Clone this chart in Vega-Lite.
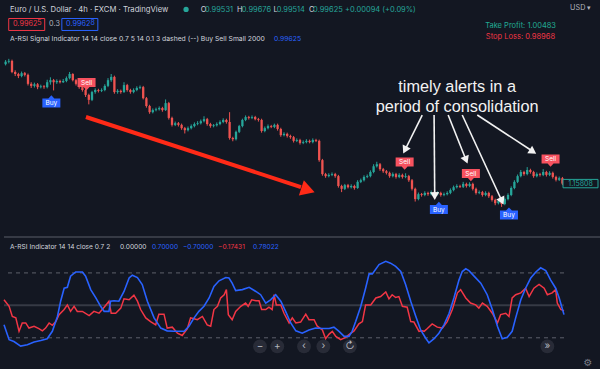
{
"$schema": "https://vega.github.io/schema/vega-lite/v6.json",
"background": "#131722",
"padding": 0,
"spacing": 0,
"config": {"view": {"stroke": null}, "font": "Inter", "text": {"font": "Inter"}, "axis": {"labelFont": "Inter", "grid": false}},
"datasets": {
"candles": [
{"i":0,"o":1.1872,"h":1.1882,"l":1.1869,"c":1.1878},
{"i":1,"o":1.1878,"h":1.1885,"l":1.1874,"c":1.188},
{"i":2,"o":1.188,"h":1.1883,"l":1.185,"c":1.1853},
{"i":3,"o":1.1853,"h":1.1857,"l":1.1843,"c":1.1848},
{"i":4,"o":1.1848,"h":1.1851,"l":1.1838,"c":1.1843},
{"i":5,"o":1.1843,"h":1.1854,"l":1.184,"c":1.185},
{"i":6,"o":1.185,"h":1.1853,"l":1.1842,"c":1.1846},
{"i":7,"o":1.1846,"h":1.1849,"l":1.182,"c":1.1824},
{"i":8,"o":1.1824,"h":1.1828,"l":1.1814,"c":1.1819},
{"i":9,"o":1.1819,"h":1.1827,"l":1.1815,"c":1.1823},
{"i":10,"o":1.1823,"h":1.1826,"l":1.1811,"c":1.1816},
{"i":11,"o":1.1816,"h":1.1822,"l":1.1813,"c":1.1818},
{"i":12,"o":1.1818,"h":1.1821,"l":1.1812,"c":1.1816},
{"i":13,"o":1.1816,"h":1.1834,"l":1.1813,"c":1.1828},
{"i":14,"o":1.1828,"h":1.184,"l":1.1822,"c":1.1833},
{"i":15,"o":1.1833,"h":1.1836,"l":1.1808,"c":1.1828},
{"i":16,"o":1.1828,"h":1.1835,"l":1.1824,"c":1.1831},
{"i":17,"o":1.1831,"h":1.1834,"l":1.1825,"c":1.1828},
{"i":18,"o":1.1828,"h":1.1836,"l":1.1826,"c":1.1831},
{"i":19,"o":1.1831,"h":1.1842,"l":1.1828,"c":1.1838},
{"i":20,"o":1.1838,"h":1.1853,"l":1.1835,"c":1.1848},
{"i":21,"o":1.1848,"h":1.185,"l":1.183,"c":1.1833},
{"i":22,"o":1.1833,"h":1.1836,"l":1.182,"c":1.1824},
{"i":23,"o":1.1824,"h":1.1827,"l":1.1812,"c":1.1816},
{"i":24,"o":1.1816,"h":1.1819,"l":1.1805,"c":1.1809},
{"i":25,"o":1.1809,"h":1.1812,"l":1.1792,"c":1.1797},
{"i":26,"o":1.1797,"h":1.18,"l":1.1774,"c":1.1785},
{"i":27,"o":1.1785,"h":1.1807,"l":1.1782,"c":1.1804},
{"i":28,"o":1.1804,"h":1.1813,"l":1.18,"c":1.1809},
{"i":29,"o":1.1809,"h":1.1812,"l":1.1803,"c":1.1807},
{"i":30,"o":1.1807,"h":1.1813,"l":1.1804,"c":1.1809},
{"i":31,"o":1.1809,"h":1.1823,"l":1.1806,"c":1.1819},
{"i":32,"o":1.1819,"h":1.1838,"l":1.1816,"c":1.1833},
{"i":33,"o":1.1833,"h":1.1848,"l":1.1829,"c":1.1841},
{"i":34,"o":1.1841,"h":1.1844,"l":1.18,"c":1.1804},
{"i":35,"o":1.1804,"h":1.1811,"l":1.18,"c":1.1807},
{"i":36,"o":1.1807,"h":1.181,"l":1.18,"c":1.1804},
{"i":37,"o":1.1804,"h":1.1828,"l":1.1802,"c":1.1821},
{"i":38,"o":1.1821,"h":1.1824,"l":1.1805,"c":1.1809},
{"i":39,"o":1.1809,"h":1.1812,"l":1.18,"c":1.1804},
{"i":40,"o":1.1804,"h":1.1813,"l":1.1801,"c":1.1809},
{"i":41,"o":1.1809,"h":1.1818,"l":1.1806,"c":1.1814},
{"i":42,"o":1.1814,"h":1.182,"l":1.1811,"c":1.1816},
{"i":43,"o":1.1816,"h":1.1819,"l":1.1786,"c":1.1789},
{"i":44,"o":1.1789,"h":1.1792,"l":1.1766,"c":1.177},
{"i":45,"o":1.177,"h":1.1773,"l":1.1751,"c":1.1755},
{"i":46,"o":1.1755,"h":1.1764,"l":1.1752,"c":1.176},
{"i":47,"o":1.176,"h":1.1766,"l":1.1757,"c":1.1762},
{"i":48,"o":1.1762,"h":1.1769,"l":1.1759,"c":1.1765},
{"i":49,"o":1.1765,"h":1.1768,"l":1.1756,"c":1.176},
{"i":50,"o":1.176,"h":1.1786,"l":1.1758,"c":1.1777},
{"i":51,"o":1.1777,"h":1.178,"l":1.1737,"c":1.1741},
{"i":52,"o":1.1741,"h":1.1744,"l":1.172,"c":1.1724},
{"i":53,"o":1.1724,"h":1.1732,"l":1.1721,"c":1.1728},
{"i":54,"o":1.1728,"h":1.1731,"l":1.172,"c":1.1724},
{"i":55,"o":1.1724,"h":1.1727,"l":1.1712,"c":1.1716},
{"i":56,"o":1.1716,"h":1.1719,"l":1.1703,"c":1.1711},
{"i":57,"o":1.1711,"h":1.172,"l":1.1708,"c":1.1716},
{"i":58,"o":1.1716,"h":1.1725,"l":1.1713,"c":1.1721},
{"i":59,"o":1.1721,"h":1.173,"l":1.1718,"c":1.1726},
{"i":60,"o":1.1726,"h":1.1733,"l":1.1723,"c":1.1728},
{"i":61,"o":1.1728,"h":1.1737,"l":1.1725,"c":1.1733},
{"i":62,"o":1.1733,"h":1.1745,"l":1.173,"c":1.1738},
{"i":63,"o":1.1738,"h":1.1741,"l":1.1722,"c":1.1726},
{"i":64,"o":1.1726,"h":1.1729,"l":1.1717,"c":1.1721},
{"i":65,"o":1.1721,"h":1.1726,"l":1.1718,"c":1.1723},
{"i":66,"o":1.1723,"h":1.173,"l":1.172,"c":1.1726},
{"i":67,"o":1.1726,"h":1.1735,"l":1.1723,"c":1.1731},
{"i":68,"o":1.1731,"h":1.174,"l":1.1728,"c":1.1736},
{"i":69,"o":1.1736,"h":1.1739,"l":1.1727,"c":1.1731},
{"i":70,"o":1.1731,"h":1.1755,"l":1.1688,"c":1.1692},
{"i":71,"o":1.1692,"h":1.1695,"l":1.1684,"c":1.1689},
{"i":72,"o":1.1689,"h":1.171,"l":1.1686,"c":1.1707},
{"i":73,"o":1.1707,"h":1.1724,"l":1.1704,"c":1.1721},
{"i":74,"o":1.1721,"h":1.1739,"l":1.1718,"c":1.1736},
{"i":75,"o":1.1736,"h":1.1747,"l":1.1733,"c":1.1743},
{"i":76,"o":1.1743,"h":1.1746,"l":1.1737,"c":1.1741},
{"i":77,"o":1.1741,"h":1.1747,"l":1.1738,"c":1.1743},
{"i":78,"o":1.1743,"h":1.1746,"l":1.1735,"c":1.1738},
{"i":79,"o":1.1738,"h":1.1741,"l":1.1732,"c":1.1736},
{"i":80,"o":1.1736,"h":1.1739,"l":1.1705,"c":1.1709},
{"i":81,"o":1.1709,"h":1.172,"l":1.1706,"c":1.1716},
{"i":82,"o":1.1716,"h":1.1725,"l":1.1713,"c":1.1721},
{"i":83,"o":1.1721,"h":1.1724,"l":1.1716,"c":1.1719},
{"i":84,"o":1.1719,"h":1.1727,"l":1.1716,"c":1.1724},
{"i":85,"o":1.1724,"h":1.1727,"l":1.171,"c":1.1714},
{"i":86,"o":1.1714,"h":1.1717,"l":1.1695,"c":1.1699},
{"i":87,"o":1.1699,"h":1.1706,"l":1.1696,"c":1.1702},
{"i":88,"o":1.1702,"h":1.1705,"l":1.1693,"c":1.1697},
{"i":89,"o":1.1697,"h":1.17,"l":1.169,"c":1.1694},
{"i":90,"o":1.1694,"h":1.1697,"l":1.1681,"c":1.1685},
{"i":91,"o":1.1685,"h":1.1691,"l":1.1682,"c":1.1687},
{"i":92,"o":1.1687,"h":1.169,"l":1.1676,"c":1.168},
{"i":93,"o":1.168,"h":1.1686,"l":1.1677,"c":1.1682},
{"i":94,"o":1.1682,"h":1.1689,"l":1.1679,"c":1.1685},
{"i":95,"o":1.1685,"h":1.1688,"l":1.1679,"c":1.1682},
{"i":96,"o":1.1682,"h":1.1691,"l":1.1679,"c":1.1687},
{"i":97,"o":1.1687,"h":1.169,"l":1.1682,"c":1.1685},
{"i":98,"o":1.1685,"h":1.1688,"l":1.1634,"c":1.1638},
{"i":99,"o":1.1638,"h":1.1641,"l":1.16,"c":1.1604},
{"i":100,"o":1.1604,"h":1.1607,"l":1.1595,"c":1.1599},
{"i":101,"o":1.1599,"h":1.1606,"l":1.1596,"c":1.1602},
{"i":102,"o":1.1602,"h":1.1608,"l":1.1599,"c":1.1604},
{"i":103,"o":1.1604,"h":1.1607,"l":1.1595,"c":1.1599},
{"i":104,"o":1.1599,"h":1.1602,"l":1.1571,"c":1.1575},
{"i":105,"o":1.1575,"h":1.1578,"l":1.156,"c":1.1568},
{"i":106,"o":1.1568,"h":1.158,"l":1.1565,"c":1.1577},
{"i":107,"o":1.1577,"h":1.158,"l":1.1569,"c":1.1572},
{"i":108,"o":1.1572,"h":1.1579,"l":1.1569,"c":1.1575},
{"i":109,"o":1.1575,"h":1.1578,"l":1.1566,"c":1.157},
{"i":110,"o":1.157,"h":1.1589,"l":1.1568,"c":1.1585},
{"i":111,"o":1.1585,"h":1.1593,"l":1.1582,"c":1.1589},
{"i":112,"o":1.1589,"h":1.1601,"l":1.1586,"c":1.1597},
{"i":113,"o":1.1597,"h":1.1603,"l":1.1594,"c":1.1599},
{"i":114,"o":1.1599,"h":1.1613,"l":1.1596,"c":1.1609},
{"i":115,"o":1.1609,"h":1.1628,"l":1.1606,"c":1.1623},
{"i":116,"o":1.1623,"h":1.1634,"l":1.162,"c":1.1628},
{"i":117,"o":1.1628,"h":1.1631,"l":1.1612,"c":1.1616},
{"i":118,"o":1.1616,"h":1.1619,"l":1.1607,"c":1.1611},
{"i":119,"o":1.1611,"h":1.1614,"l":1.1603,"c":1.1607},
{"i":120,"o":1.1607,"h":1.161,"l":1.1595,"c":1.1599},
{"i":121,"o":1.1599,"h":1.1608,"l":1.1596,"c":1.1604},
{"i":122,"o":1.1604,"h":1.1607,"l":1.1593,"c":1.1597},
{"i":123,"o":1.1597,"h":1.1606,"l":1.1594,"c":1.1602},
{"i":124,"o":1.1602,"h":1.1605,"l":1.1593,"c":1.1597},
{"i":125,"o":1.1597,"h":1.1606,"l":1.1594,"c":1.1599},
{"i":126,"o":1.1599,"h":1.1602,"l":1.1585,"c":1.1589},
{"i":127,"o":1.1589,"h":1.1592,"l":1.1564,"c":1.1568},
{"i":128,"o":1.1568,"h":1.1571,"l":1.1537,"c":1.1543},
{"i":129,"o":1.1543,"h":1.1559,"l":1.154,"c":1.1555},
{"i":130,"o":1.1555,"h":1.1558,"l":1.1549,"c":1.1553},
{"i":131,"o":1.1553,"h":1.1562,"l":1.155,"c":1.1558},
{"i":132,"o":1.1558,"h":1.1561,"l":1.1551,"c":1.1555},
{"i":133,"o":1.1555,"h":1.1564,"l":1.1552,"c":1.156},
{"i":134,"o":1.156,"h":1.1563,"l":1.1551,"c":1.1555},
{"i":135,"o":1.1555,"h":1.1562,"l":1.1552,"c":1.1558},
{"i":136,"o":1.1558,"h":1.1561,"l":1.1549,"c":1.1553},
{"i":137,"o":1.1553,"h":1.1559,"l":1.155,"c":1.1555},
{"i":138,"o":1.1555,"h":1.1562,"l":1.1552,"c":1.1558},
{"i":139,"o":1.1558,"h":1.1569,"l":1.1555,"c":1.1565},
{"i":140,"o":1.1565,"h":1.1576,"l":1.1562,"c":1.1572},
{"i":141,"o":1.1572,"h":1.1579,"l":1.1569,"c":1.1575},
{"i":142,"o":1.1575,"h":1.1578,"l":1.157,"c":1.1573},
{"i":143,"o":1.1573,"h":1.1585,"l":1.157,"c":1.158},
{"i":144,"o":1.158,"h":1.1583,"l":1.1571,"c":1.1575},
{"i":145,"o":1.1575,"h":1.1584,"l":1.1572,"c":1.158},
{"i":146,"o":1.158,"h":1.1583,"l":1.1564,"c":1.1568},
{"i":147,"o":1.1568,"h":1.1571,"l":1.1554,"c":1.1558},
{"i":148,"o":1.1558,"h":1.1564,"l":1.1555,"c":1.156},
{"i":149,"o":1.156,"h":1.1563,"l":1.1549,"c":1.1553},
{"i":150,"o":1.1553,"h":1.1562,"l":1.155,"c":1.1558},
{"i":151,"o":1.1558,"h":1.1561,"l":1.1546,"c":1.155},
{"i":152,"o":1.155,"h":1.1553,"l":1.1537,"c":1.1541},
{"i":153,"o":1.1541,"h":1.1544,"l":1.1528,"c":1.1533},
{"i":154,"o":1.1533,"h":1.1542,"l":1.153,"c":1.1538},
{"i":155,"o":1.1538,"h":1.1541,"l":1.1524,"c":1.1531},
{"i":156,"o":1.1531,"h":1.1547,"l":1.1528,"c":1.1543},
{"i":157,"o":1.1543,"h":1.1557,"l":1.154,"c":1.1553},
{"i":158,"o":1.1553,"h":1.1574,"l":1.155,"c":1.157},
{"i":159,"o":1.157,"h":1.1589,"l":1.1567,"c":1.1585},
{"i":160,"o":1.1585,"h":1.1603,"l":1.1582,"c":1.1599},
{"i":161,"o":1.1599,"h":1.1614,"l":1.1596,"c":1.1609},
{"i":162,"o":1.1609,"h":1.1612,"l":1.16,"c":1.1604},
{"i":163,"o":1.1604,"h":1.1621,"l":1.1601,"c":1.1614},
{"i":164,"o":1.1614,"h":1.1617,"l":1.1605,"c":1.1609},
{"i":165,"o":1.1609,"h":1.1612,"l":1.1595,"c":1.1599},
{"i":166,"o":1.1599,"h":1.1608,"l":1.1596,"c":1.1604},
{"i":167,"o":1.1604,"h":1.1607,"l":1.1598,"c":1.1602},
{"i":168,"o":1.1602,"h":1.1616,"l":1.1599,"c":1.1609},
{"i":169,"o":1.1609,"h":1.1612,"l":1.1598,"c":1.1602},
{"i":170,"o":1.1602,"h":1.1611,"l":1.1599,"c":1.1607},
{"i":171,"o":1.1607,"h":1.161,"l":1.1593,"c":1.1597},
{"i":172,"o":1.1597,"h":1.16,"l":1.1586,"c":1.159},
{"i":173,"o":1.159,"h":1.1598,"l":1.1587,"c":1.1594},
{"i":174,"o":1.1594,"h":1.1597,"l":1.1577,"c":1.15808}
],
"rsi": [
{"i":-0.5,"v":0.12,"s":"r"},{"i":1.1,"v":-0.02,"s":"r"},{"i":2.1,"v":-0.24,"s":"r"},{"i":3.2,"v":-0.27,"s":"r"},{"i":4.2,"v":-0.56,"s":"r"},{"i":5.2,"v":-0.38,"s":"r"},{"i":6.3,"v":-0.38,"s":"r"},{"i":7.3,"v":-0.49,"s":"r"},{"i":8.9,"v":-0.45,"s":"r"},{"i":10.4,"v":-0.5,"s":"r"},{"i":11.5,"v":-0.55,"s":"r"},{"i":12.5,"v":-0.49,"s":"r"},{"i":13.6,"v":-0.38,"s":"r"},{"i":14.6,"v":-0.43,"s":"r"},{"i":15.7,"v":-0.35,"s":"r"},{"i":16.7,"v":-0.2,"s":"r"},{"i":18.3,"v":-0.09,"s":"r"},{"i":19.3,"v":0.01,"s":"r"},{"i":20.3,"v":-0.13,"s":"r"},{"i":21.4,"v":-0.02,"s":"r"},{"i":22.4,"v":-0.13,"s":"r"},{"i":24,"v":-0.13,"s":"r"},{"i":26.1,"v":-0.22,"s":"r"},{"i":27.6,"v":-0.13,"s":"r"},{"i":29.2,"v":-0.17,"s":"r"},{"i":30.8,"v":-0.04,"s":"r"},{"i":32.3,"v":0.09,"s":"r"},{"i":33,"v":-0.17,"s":"r"},{"i":34.4,"v":-0.17,"s":"r"},{"i":36,"v":-0.06,"s":"r"},{"i":37,"v":0.14,"s":"r"},{"i":38.6,"v":0.12,"s":"r"},{"i":40.1,"v":0.22,"s":"r"},{"i":41.2,"v":0.09,"s":"r"},{"i":42.2,"v":-0.09,"s":"r"},{"i":43.8,"v":-0.27,"s":"r"},{"i":45.3,"v":-0.35,"s":"r"},{"i":46.9,"v":-0.42,"s":"r"},{"i":47.9,"v":-0.19,"s":"r"},{"i":49.5,"v":-0.19,"s":"r"},{"i":50.5,"v":-0.49,"s":"r"},{"i":52.1,"v":-0.47,"s":"r"},{"i":53.7,"v":-0.6,"s":"r"},{"i":55.2,"v":-0.65,"s":"r"},{"i":56.8,"v":-0.5,"s":"r"},{"i":57.8,"v":-0.27,"s":"r"},{"i":58.9,"v":-0.29,"s":"r"},{"i":59.9,"v":-0.31,"s":"r"},{"i":61.5,"v":-0.24,"s":"r"},{"i":63,"v":-0.42,"s":"r"},{"i":64.1,"v":-0.45,"s":"r"},{"i":65.1,"v":-0.09,"s":"r"},{"i":66.2,"v":-0.02,"s":"r"},{"i":67.2,"v":0.16,"s":"r"},{"i":68.3,"v":0.23,"s":"r"},{"i":69,"v":0.34,"s":"r"},{"i":69.6,"v":-0.2,"s":"r"},{"i":70.8,"v":-0.31,"s":"r"},{"i":71.9,"v":-0.13,"s":"r"},{"i":73.5,"v":-0.02,"s":"r"},{"i":75,"v":0.05,"s":"r"},{"i":75.8,"v":-0.02,"s":"r"},{"i":76.9,"v":0.12,"s":"r"},{"i":78.2,"v":0.1,"s":"r"},{"i":79.2,"v":0.1,"s":"r"},{"i":80,"v":-0.09,"s":"r"},{"i":81.3,"v":-0.09,"s":"r"},{"i":82.3,"v":-0.04,"s":"r"},{"i":83.3,"v":-0.09,"s":"r"},{"i":83.9,"v":0.23,"s":"r"},{"i":84.6,"v":0.01,"s":"r"},{"i":86,"v":0.01,"s":"r"},{"i":87,"v":-0.17,"s":"r"},{"i":88.6,"v":-0.38,"s":"r"},{"i":89.6,"v":-0.27,"s":"r"},{"i":90.7,"v":-0.38,"s":"r"},{"i":92.2,"v":-0.36,"s":"r"},{"i":93.8,"v":-0.19,"s":"r"},{"i":94.8,"v":-0.31,"s":"r"},{"i":96.4,"v":-0.31,"s":"r"},{"i":97.4,"v":-0.45,"s":"r"},{"i":99,"v":-0.53,"s":"r"},{"i":100,"v":-0.72,"s":"r"},{"i":101.1,"v":-0.62,"s":"r"},{"i":102.1,"v":-0.56,"s":"r"},{"i":103.2,"v":-0.67,"s":"r"},{"i":104.7,"v":-0.74,"s":"r"},{"i":106.3,"v":-0.69,"s":"r"},{"i":107.3,"v":-0.63,"s":"r"},{"i":108.9,"v":-0.55,"s":"r"},{"i":110.4,"v":-0.4,"s":"r"},{"i":111.5,"v":-0.35,"s":"r"},{"i":112.5,"v":0.01,"s":"r"},{"i":114.1,"v":0.01,"s":"r"},{"i":115.7,"v":0.16,"s":"r"},{"i":117.2,"v":0.19,"s":"r"},{"i":118.8,"v":0.29,"s":"r"},{"i":119.8,"v":0.14,"s":"r"},{"i":120.8,"v":0.23,"s":"r"},{"i":121.9,"v":0.17,"s":"r"},{"i":122.9,"v":0.19,"s":"r"},{"i":124,"v":-0.02,"s":"r"},{"i":125.5,"v":-0.04,"s":"r"},{"i":126.6,"v":-0.35,"s":"r"},{"i":127.6,"v":-0.36,"s":"r"},{"i":129.2,"v":-0.56,"s":"r"},{"i":130.2,"v":-0.55,"s":"r"},{"i":130.8,"v":-0.56,"s":"r"},{"i":131.8,"v":-0.5,"s":"r"},{"i":133.3,"v":-0.4,"s":"r"},{"i":134.9,"v":-0.47,"s":"r"},{"i":136.5,"v":-0.49,"s":"r"},{"i":138,"v":-0.35,"s":"r"},{"i":139.6,"v":-0.09,"s":"r"},{"i":141.2,"v":0.27,"s":"r"},{"i":142.2,"v":0.34,"s":"r"},{"i":143.8,"v":0.16,"s":"r"},{"i":145.3,"v":0.05,"s":"r"},{"i":146.9,"v":0.01,"s":"r"},{"i":147.9,"v":-0.06,"s":"r"},{"i":149,"v":0.05,"s":"r"},{"i":150.5,"v":-0.02,"s":"r"},{"i":152.1,"v":-0.17,"s":"r"},{"i":153.7,"v":-0.38,"s":"r"},{"i":154.7,"v":-0.2,"s":"r"},{"i":156.3,"v":-0.17,"s":"r"},{"i":157.3,"v":-0.24,"s":"r"},{"i":158.3,"v":0.16,"s":"r"},{"i":159.4,"v":0.23,"s":"r"},{"i":161,"v":0.27,"s":"r"},{"i":162.5,"v":0.37,"s":"r"},{"i":163.6,"v":0.19,"s":"r"},{"i":165.1,"v":0.37,"s":"r"},{"i":166.7,"v":0.45,"s":"r"},{"i":168.3,"v":0.37,"s":"r"},{"i":169.3,"v":0.23,"s":"r"},{"i":170.8,"v":0.27,"s":"r"},{"i":171.9,"v":0.34,"s":"r"},{"i":172.4,"v":0.05,"s":"r"},{"i":173.5,"v":-0.09,"s":"r"},{"i":174.5,"v":-0.12,"s":"r"},
{"i":-0.5,"v":-0.42,"s":"b"},{"i":1.1,"v":-0.74,"s":"b"},{"i":2.6,"v":-0.78,"s":"b"},{"i":4.7,"v":-0.88,"s":"b"},{"i":6.8,"v":-0.85,"s":"b"},{"i":8.9,"v":-0.79,"s":"b"},{"i":11,"v":-0.76,"s":"b"},{"i":13,"v":-0.72,"s":"b"},{"i":14.6,"v":-0.56,"s":"b"},{"i":16.2,"v":-0.24,"s":"b"},{"i":17.2,"v":0.09,"s":"b"},{"i":18.3,"v":0.37,"s":"b"},{"i":19.3,"v":0.39,"s":"b"},{"i":20.3,"v":0.63,"s":"b"},{"i":21.9,"v":0.72,"s":"b"},{"i":24,"v":0.72,"s":"b"},{"i":25,"v":0.63,"s":"b"},{"i":26.6,"v":0.34,"s":"b"},{"i":28.2,"v":0.16,"s":"b"},{"i":29.7,"v":-0.02,"s":"b"},{"i":30.8,"v":-0.13,"s":"b"},{"i":32.3,"v":-0.13,"s":"b"},{"i":32.8,"v":0.09,"s":"b"},{"i":33.9,"v":0.1,"s":"b"},{"i":35.4,"v":0.09,"s":"b"},{"i":37,"v":0.3,"s":"b"},{"i":38.6,"v":0.59,"s":"b"},{"i":39.6,"v":0.65,"s":"b"},{"i":41.2,"v":0.6,"s":"b"},{"i":42.7,"v":0.45,"s":"b"},{"i":44.3,"v":0.09,"s":"b"},{"i":46.4,"v":-0.27,"s":"b"},{"i":48.5,"v":-0.49,"s":"b"},{"i":50.5,"v":-0.55,"s":"b"},{"i":52.6,"v":-0.56,"s":"b"},{"i":55.8,"v":-0.56,"s":"b"},{"i":57.3,"v":-0.45,"s":"b"},{"i":58.9,"v":-0.27,"s":"b"},{"i":60.4,"v":-0.13,"s":"b"},{"i":62,"v":-0.02,"s":"b"},{"i":63.6,"v":0.16,"s":"b"},{"i":65.1,"v":0.41,"s":"b"},{"i":66.7,"v":0.53,"s":"b"},{"i":68.8,"v":0.6,"s":"b"},{"i":69.8,"v":0.59,"s":"b"},{"i":70.8,"v":0.48,"s":"b"},{"i":71.9,"v":0.32,"s":"b"},{"i":74,"v":0.34,"s":"b"},{"i":76.1,"v":0.39,"s":"b"},{"i":78.2,"v":0.3,"s":"b"},{"i":79.7,"v":0.23,"s":"b"},{"i":81.3,"v":0.05,"s":"b"},{"i":82.8,"v":0.12,"s":"b"},{"i":84.4,"v":0.23,"s":"b"},{"i":86,"v":0.09,"s":"b"},{"i":87.5,"v":-0.13,"s":"b"},{"i":89.1,"v":-0.38,"s":"b"},{"i":90.7,"v":-0.55,"s":"b"},{"i":92.7,"v":-0.6,"s":"b"},{"i":94.8,"v":-0.53,"s":"b"},{"i":96.9,"v":-0.49,"s":"b"},{"i":99,"v":-0.5,"s":"b"},{"i":101.1,"v":-0.5,"s":"b"},{"i":102.6,"v":-0.47,"s":"b"},{"i":104.2,"v":-0.56,"s":"b"},{"i":105.8,"v":-0.67,"s":"b"},{"i":107.3,"v":-0.67,"s":"b"},{"i":108.3,"v":-0.56,"s":"b"},{"i":109.4,"v":-0.35,"s":"b"},{"i":111,"v":-0.02,"s":"b"},{"i":112.5,"v":0.37,"s":"b"},{"i":113.6,"v":0.68,"s":"b"},{"i":114.6,"v":0.68,"s":"b"},{"i":116.7,"v":0.88,"s":"b"},{"i":118.8,"v":0.95,"s":"b"},{"i":120.3,"v":0.91,"s":"b"},{"i":121.9,"v":0.84,"s":"b"},{"i":123.5,"v":0.73,"s":"b"},{"i":125,"v":0.45,"s":"b"},{"i":126.6,"v":0.09,"s":"b"},{"i":128.2,"v":-0.24,"s":"b"},{"i":129.7,"v":-0.53,"s":"b"},{"i":131.3,"v":-0.71,"s":"b"},{"i":132.3,"v":-0.81,"s":"b"},{"i":133.9,"v":-0.72,"s":"b"},{"i":135.4,"v":-0.6,"s":"b"},{"i":137,"v":-0.42,"s":"b"},{"i":138.6,"v":-0.17,"s":"b"},{"i":140.1,"v":0.16,"s":"b"},{"i":141.7,"v":0.55,"s":"b"},{"i":142.7,"v":0.73,"s":"b"},{"i":143.8,"v":0.79,"s":"b"},{"i":144.8,"v":0.75,"s":"b"},{"i":146.4,"v":0.63,"s":"b"},{"i":148.5,"v":0.48,"s":"b"},{"i":150.5,"v":0.23,"s":"b"},{"i":152.1,"v":-0.09,"s":"b"},{"i":153.7,"v":-0.45,"s":"b"},{"i":155.2,"v":-0.72,"s":"b"},{"i":156.8,"v":-0.69,"s":"b"},{"i":158.3,"v":-0.56,"s":"b"},{"i":159.4,"v":-0.27,"s":"b"},{"i":161,"v":0.12,"s":"b"},{"i":162.5,"v":0.37,"s":"b"},{"i":164.1,"v":0.59,"s":"b"},{"i":165.7,"v":0.72,"s":"b"},{"i":167.2,"v":0.81,"s":"b"},{"i":168.8,"v":0.75,"s":"b"},{"i":170.3,"v":0.55,"s":"b"},{"i":171.9,"v":0.37,"s":"b"},{"i":173,"v":0.16,"s":"b"},{"i":174.5,"v":-0.2,"s":"b"}
]
},
"vconcat": [
{
"width": 560, "height": 236,
"layer": [
{"data": {"name": "candles"}, "mark": {"type": "rule", "strokeWidth": 1},
 "encoding": {
  "x": {"field": "i", "type": "quantitative", "scale": {"domain": [-0.5, 174.5], "nice": false, "zero": false}, "axis": null},
  "y": {"field": "l", "type": "quantitative", "scale": {"domain": [1.1453, 1.20285], "nice": false, "zero": false},
        "axis": {"orient": "right", "values": [1.15, 1.155, 1.16, 1.165, 1.17, 1.175, 1.18, 1.185, 1.19, 1.195], "format": ".5f", "title": null, "ticks": false, "labelPadding": 6, "domain": true, "domainColor": "#2a2e39", "domainWidth": 1, "labelColor": "#b2b5be", "labelFontSize": 7, "minExtent": 40, "maxExtent": 40, "grid": false}},
  "y2": {"field": "h"},
  "color": {"condition": {"test": "datum.c >= datum.o", "value": "#26a69a"}, "value": "#ef5350"}}},
{"data": {"name": "candles"}, "mark": {"type": "rule", "strokeWidth": 2.3},
 "encoding": {
  "x": {"field": "i", "type": "quantitative", "scale": {"domain": [-0.5, 174.5], "nice": false, "zero": false}, "axis": null},
  "y": {"field": "o", "type": "quantitative", "scale": {"domain": [1.1453, 1.20285], "nice": false, "zero": false}, "axis": null},
  "y2": {"field": "c"},
  "color": {"condition": {"test": "datum.c >= datum.o", "value": "#26a69a"}, "value": "#ef5350"}}},
{"data": {"values": [{"i": 25.1, "p": 1.17432, "i2": 92.3, "p2": 1.15724}]}, "mark": {"type": "rule", "color": "#ff2a17", "strokeWidth": 4},
 "encoding": {
  "x": {"field": "i", "type": "quantitative", "scale": {"domain": [-0.5, 174.5], "nice": false, "zero": false}, "axis": null},
  "y": {"field": "p", "type": "quantitative", "scale": {"domain": [1.1453, 1.20285], "nice": false, "zero": false}, "axis": null},
  "x2": {"field": "i2"}, "y2": {"field": "p2"}}},
{"data": {"values": [{"i": 94.5, "p": 1.15651, "a": 108}]}, "mark": {"type": "point", "shape": "triangle-up", "filled": true, "color": "#ff2a17", "size": 260, "opacity": 1},
 "encoding": {
  "x": {"field": "i", "type": "quantitative", "scale": {"domain": [-0.5, 174.5], "nice": false, "zero": false}, "axis": null},
  "y": {"field": "p", "type": "quantitative", "scale": {"domain": [1.1453, 1.20285], "nice": false, "zero": false}, "axis": null},
  "angle": {"field": "a", "type": "quantitative", "scale": null}}},
{"data": {"values": [{"i": 130.2, "p": 1.1748, "i2": 124.8, "p2": 1.16627}, {"i": 133.9, "p": 1.1748, "i2": 134.1, "p2": 1.15505}, {"i": 138.3, "p": 1.1748, "i2": 143.9, "p2": 1.16383}, {"i": 142.7, "p": 1.1748, "i2": 155.1, "p2": 1.15383}, {"i": 147.4, "p": 1.1748, "i2": 164.8, "p2": 1.1659}]},
 "mark": {"type": "rule", "color": "#f2f2f2", "strokeWidth": 1.6},
 "encoding": {
  "x": {"field": "i", "type": "quantitative", "scale": {"domain": [-0.5, 174.5], "nice": false, "zero": false}, "axis": null},
  "y": {"field": "p", "type": "quantitative", "scale": {"domain": [1.1453, 1.20285], "nice": false, "zero": false}, "axis": null},
  "x2": {"field": "i2"}, "y2": {"field": "p2"}}},
{"data": {"values": [{"i": 124.8, "p": 1.16627, "a": 206.5}, {"i": 134.1, "p": 1.15505, "a": 179.5}, {"i": 143.9, "p": 1.16383, "a": 158}, {"i": 155.1, "p": 1.15383, "a": 155}, {"i": 164.8, "p": 1.1659, "a": 123}]},
 "mark": {"type": "point", "shape": "triangle-up", "filled": true, "color": "#f2f2f2", "size": 80, "opacity": 1},
 "encoding": {
  "x": {"field": "i", "type": "quantitative", "scale": {"domain": [-0.5, 174.5], "nice": false, "zero": false}, "axis": null},
  "y": {"field": "p", "type": "quantitative", "scale": {"domain": [1.1453, 1.20285], "nice": false, "zero": false}, "axis": null},
  "angle": {"field": "a", "type": "quantitative", "scale": null}}},
{"data": {"values": [{"i": 14.3, "p": 1.17773, "s": "Buy"}, {"i": 25.3, "p": 1.18273, "s": "Sell"}, {"i": 124.7, "p": 1.16334, "s": "Sell"}, {"i": 135.4, "p": 1.15176, "s": "Buy"}, {"i": 145.4, "p": 1.16054, "s": "Sell"}, {"i": 157.3, "p": 1.15041, "s": "Buy"}, {"i": 170.3, "p": 1.16407, "s": "Sell"}]},
 "layer": [
  {"mark": {"type": "point", "filled": true, "opacity": 1, "size": 324},
   "encoding": {
    "x": {"field": "i", "type": "quantitative", "scale": {"domain": [-0.5, 174.5], "nice": false, "zero": false}, "axis": null},
    "y": {"field": "p", "type": "quantitative", "scale": {"domain": [1.1453, 1.20285], "nice": false, "zero": false}, "axis": null},
    "shape": {"field": "s", "type": "nominal", "scale": {"domain": ["Buy", "Sell"], "range": ["M-1,-0.5L-0.33,-0.5L0,-0.85L0.33,-0.5L1,-0.5L1,0.5L-1,0.5Z", "M-1,-0.5L1,-0.5L1,0.5L0.33,0.5L0,0.85L-0.33,0.5L-1,0.5Z"]}, "legend": null},
    "color": {"field": "s", "type": "nominal", "scale": {"domain": ["light", "gray", "teal", "red", "blue", "green", "Buy", "Sell"], "range": ["#d1d4dc", "#b2b5be", "#26a69a", "#f23645", "#2962ff", "#22ab94", "#2962ff", "#f7525f"]}, "legend": null}}},
  {"mark": {"type": "text", "fontSize": 6.5, "color": "#ffffff", "align": "center", "baseline": "middle"},
   "encoding": {
    "x": {"field": "i", "type": "quantitative", "scale": {"domain": [-0.5, 174.5], "nice": false, "zero": false}, "axis": null},
    "y": {"field": "p", "type": "quantitative", "scale": {"domain": [1.1453, 1.20285], "nice": false, "zero": false}, "axis": null},
    "text": {"field": "s"}}}
 ]},
{"data": {"values": [{"i": 141.1, "p": 1.18163, "t": "timely alerts in a"}, {"i": 141.1, "p": 1.17676, "t": "period of consolidation"}]},
 "mark": {"type": "text", "font": "Liberation Sans", "fontSize": 16.3, "color": "#f2f2f2", "align": "center", "baseline": "middle"},
 "encoding": {
  "x": {"field": "i", "type": "quantitative", "scale": {"domain": [-0.5, 174.5], "nice": false, "zero": false}, "axis": null},
  "y": {"field": "p", "type": "quantitative", "scale": {"domain": [1.1453, 1.20285], "nice": false, "zero": false}, "axis": null},
  "text": {"field": "t"}}},
{"data": {"values": [{"i": 6.6, "p": 1.19688, "k": "red"}, {"i": 23.2, "p": 1.19688, "k": "blue"}]},
 "mark": {"type": "point", "filled": false, "opacity": 1, "strokeWidth": 1, "size": 1296, "shape": "M-1,-0.333L1,-0.333L1,0.333L-1,0.333Z"},
 "encoding": {
  "x": {"field": "i", "type": "quantitative", "scale": {"domain": [-0.5, 174.5], "nice": false, "zero": false}, "axis": null},
  "y": {"field": "p", "type": "quantitative", "scale": {"domain": [1.1453, 1.20285], "nice": false, "zero": false}, "axis": null},
  "color": {"field": "k", "type": "nominal", "scale": {"domain": ["light", "gray", "teal", "red", "blue", "green", "Buy", "Sell"], "range": ["#d1d4dc", "#b2b5be", "#26a69a", "#f23645", "#2962ff", "#22ab94", "#2962ff", "#f7525f"]}, "legend": null}}},
{"data": {"values": [{"i": 179.66, "p": 1.15808}]},
 "mark": {"type": "point", "filled": true, "fill": "#131722", "stroke": "#26a69a", "strokeWidth": 1, "opacity": 1, "size": 1225, "shape": "M-1,-0.24L1,-0.24L1,0.24L-1,0.24Z"},
 "encoding": {
  "x": {"field": "i", "type": "quantitative", "scale": {"domain": [-0.5, 174.5], "nice": false, "zero": false}, "axis": null},
  "y": {"field": "p", "type": "quantitative", "scale": {"domain": [1.1453, 1.20285], "nice": false, "zero": false}, "axis": null}}},
{"data": {"values": [{"i": 56.4, "p": 1.20054}]},
 "mark": {"type": "point", "shape": "circle", "filled": true, "color": "#26a69a", "size": 28, "opacity": 1},
 "encoding": {
  "x": {"field": "i", "type": "quantitative", "scale": {"domain": [-0.5, 174.5], "nice": false, "zero": false}, "axis": null},
  "y": {"field": "p", "type": "quantitative", "scale": {"domain": [1.1453, 1.20285], "nice": false, "zero": false}, "axis": null}}},
{"data": {"values": [
  {"i": 1.375, "p": 1.20041, "t": "Euro / U.S. Dollar · 4h · FXCM · TradingView", "k": "light", "g": "a"},
  {"i": 61.0, "p": 1.20041, "t": "O", "k": "light", "g": "b"},
  {"i": 62.3, "p": 1.20041, "t": "0.99531", "k": "teal", "g": "b"},
  {"i": 72.3, "p": 1.20041, "t": "H", "k": "light", "g": "b"},
  {"i": 73.8, "p": 1.20041, "t": "0.99676", "k": "teal", "g": "b"},
  {"i": 83.7, "p": 1.20041, "t": "L", "k": "light", "g": "b"},
  {"i": 84.7, "p": 1.20041, "t": "0.99514", "k": "teal", "g": "b"},
  {"i": 94.8, "p": 1.20041, "t": "C", "k": "light", "g": "b"},
  {"i": 96.1, "p": 1.20041, "t": "0.99625", "k": "teal", "g": "b"},
  {"i": 106.1, "p": 1.20041, "t": "+0.00094 (+0.09%)", "k": "teal", "g": "b"},
  {"i": 2.3, "p": 1.19688, "t": "0.9962", "k": "red", "g": "c"},
  {"i": 9.9, "p": 1.19725, "t": "5", "k": "red", "g": "d"},
  {"i": 13.6, "p": 1.19688, "t": "0.3", "k": "gray", "g": "c"},
  {"i": 18.9, "p": 1.19688, "t": "0.9962", "k": "blue", "g": "c"},
  {"i": 26.5, "p": 1.19725, "t": "8", "k": "blue", "g": "d"},
  {"i": 1.375, "p": 1.19327, "t": "A-RSI Signal Indicator 14 14 close 0.7 5 14 0.1 3 dashed (--) Buy Sell Small 2000", "k": "light", "g": "e"},
  {"i": 83.9, "p": 1.19327, "t": "0.99625", "k": "blue", "g": "e"},
  {"i": 176.4, "p": 1.2009, "t": "USD ▾", "k": "gray", "g": "c"}
 ]},
 "mark": {"type": "text", "align": "left", "baseline": "middle"},
 "encoding": {
  "x": {"field": "i", "type": "quantitative", "scale": {"domain": [-0.5, 174.5], "nice": false, "zero": false}, "axis": null},
  "y": {"field": "p", "type": "quantitative", "scale": {"domain": [1.1453, 1.20285], "nice": false, "zero": false}, "axis": null},
  "text": {"field": "t"},
  "size": {"field": "g", "type": "nominal", "scale": {"domain": ["a", "b", "c", "d", "e"], "range": [7.7, 6.8, 6.65, 4.8, 6.25]}, "legend": null},
  "color": {"field": "k", "type": "nominal", "scale": {"domain": ["light", "gray", "teal", "red", "blue", "green", "Buy", "Sell"], "range": ["#d1d4dc", "#b2b5be", "#26a69a", "#f23645", "#2962ff", "#22ab94", "#2962ff", "#f7525f"]}, "legend": null}}},
{"data": {"values": [
  {"i": 172, "p": 1.19659, "t": "Take Profit: 1.00483", "k": "green"},
  {"i": 171.7, "p": 1.19376, "t": "Stop Loss: 0.98968", "k": "red"}
 ]},
 "mark": {"type": "text", "align": "right", "baseline": "middle", "fontSize": 7.5},
 "encoding": {
  "x": {"field": "i", "type": "quantitative", "scale": {"domain": [-0.5, 174.5], "nice": false, "zero": false}, "axis": null},
  "y": {"field": "p", "type": "quantitative", "scale": {"domain": [1.1453, 1.20285], "nice": false, "zero": false}, "axis": null},
  "text": {"field": "t"},
  "color": {"field": "k", "type": "nominal", "scale": {"domain": ["light", "gray", "teal", "red", "blue", "green", "Buy", "Sell"], "range": ["#d1d4dc", "#b2b5be", "#26a69a", "#f23645", "#2962ff", "#22ab94", "#2962ff", "#f7525f"]}, "legend": null}}},
{"data": {"values": [
  {"i": 179.66, "p": 1.15808, "t": "1.15808", "k": "teal"}
 ]},
 "mark": {"type": "text", "align": "center", "baseline": "middle", "fontSize": 7},
 "encoding": {
  "x": {"field": "i", "type": "quantitative", "scale": {"domain": [-0.5, 174.5], "nice": false, "zero": false}, "axis": null},
  "y": {"field": "p", "type": "quantitative", "scale": {"domain": [1.1453, 1.20285], "nice": false, "zero": false}, "axis": null},
  "text": {"field": "t"},
  "color": {"field": "k", "type": "nominal", "scale": {"domain": ["light", "gray", "teal", "red", "blue", "green", "Buy", "Sell"], "range": ["#d1d4dc", "#b2b5be", "#26a69a", "#f23645", "#2962ff", "#22ab94", "#2962ff", "#f7525f"]}, "legend": null}}}
]
},
{
"width": 560, "height": 118,
"layer": [
{"data": {"values": [{"v": 0.7}, {"v": -0.7}]}, "mark": {"type": "rule", "color": "#5d606b", "strokeWidth": 1, "strokeDash": [4, 4]},
 "encoding": {"y": {"field": "v", "type": "quantitative", "scale": {"domain": [-1.071, 1.475], "nice": false, "zero": false}, "axis": null}}},
{"data": {"values": [{"v": 0}]}, "mark": {"type": "rule", "color": "#363a45", "strokeWidth": 2},
 "encoding": {"y": {"field": "v", "type": "quantitative", "scale": {"domain": [-1.071, 1.475], "nice": false, "zero": false}, "axis": null}}},
{"data": {"values": [{"a": -0.5, "b": 187, "v": 1.475}]}, "mark": {"type": "rule", "color": "#363a45", "strokeWidth": 2},
 "encoding": {
  "x": {"field": "a", "type": "quantitative", "scale": {"domain": [-0.5, 174.5], "nice": false, "zero": false}, "axis": null},
  "x2": {"field": "b"},
  "y": {"field": "v", "type": "quantitative", "scale": {"domain": [-1.071, 1.475], "nice": false, "zero": false}, "axis": null}}},
{"data": {"name": "rsi"}, "transform": [{"filter": "datum.s == 'r'"}], "mark": {"type": "line", "strokeWidth": 1.5, "color": "#f23645"},
 "encoding": {
  "x": {"field": "i", "type": "quantitative", "scale": {"domain": [-0.5, 174.5], "nice": false, "zero": false},
        "axis": {"orient": "bottom", "values": [0.2, 23.9, 38.9, 54, 68.9, 83.9, 107.6, 125.4, 143.6, 158.6, 173.3],
                 "labelExpr": "datum.value < 1 ? '7' : datum.value < 30 ? '13' : datum.value < 45 ? '14:00' : datum.value < 60 ? '20' : datum.value < 75 ? '14:00' : datum.value < 90 ? '27' : datum.value < 115 ? 'Oct' : datum.value < 135 ? '6' : datum.value < 150 ? '11' : datum.value < 165 ? '14:00' : '18'",
                 "title": null, "ticks": false, "domain": true, "domainColor": "#363a45", "domainWidth": 2, "labelColor": {"condition": {"test": "datum.value > 100 && datum.value < 115", "value": "#d1d4dc"}, "value": "#b2b5be"}, "labelFontWeight": {"condition": {"test": "datum.value > 100 && datum.value < 115", "value": "bold"}, "value": "normal"}, "labelFontSize": 7.5, "labelPadding": 4, "labelBaseline": "top", "labelOverlap": false, "labelFlush": false, "minExtent": 16, "maxExtent": 16, "grid": false}},
  "y": {"field": "v", "type": "quantitative", "scale": {"domain": [-1.071, 1.475], "nice": false, "zero": false},
        "axis": {"orient": "right", "values": [-1, -0.5, 0, 0.5, 1], "format": ".5f", "title": null, "ticks": false, "labelPadding": 6, "domain": true, "domainColor": "#2a2e39", "domainWidth": 1, "labelColor": "#b2b5be", "labelFontSize": 7, "minExtent": 40, "maxExtent": 40, "grid": false}}}},
{"data": {"name": "rsi"}, "transform": [{"filter": "datum.s == 'b'"}], "mark": {"type": "line", "strokeWidth": 1.6, "color": "#2962ff"},
 "encoding": {
  "x": {"field": "i", "type": "quantitative", "scale": {"domain": [-0.5, 174.5], "nice": false, "zero": false}, "axis": null},
  "y": {"field": "v", "type": "quantitative", "scale": {"domain": [-1.071, 1.475], "nice": false, "zero": false}, "axis": null}}},
{"data": {"values": [
  {"i": 1.375, "v": 1.258, "t": "A-RSI Indicator 14 14 close 0.7 2", "k": "light"},
  {"i": 35.75, "v": 1.258, "t": "0.00000", "k": "light"},
  {"i": 45.75, "v": 1.258, "t": "0.70000", "k": "blue"},
  {"i": 55.4, "v": 1.258, "t": "−0.70000", "k": "blue"},
  {"i": 66.4, "v": 1.258, "t": "−0.17431", "k": "red"},
  {"i": 77.3, "v": 1.258, "t": "0.78022", "k": "blue"}
 ]},
 "mark": {"type": "text", "align": "left", "baseline": "middle", "fontSize": 6.6},
 "encoding": {
  "x": {"field": "i", "type": "quantitative", "scale": {"domain": [-0.5, 174.5], "nice": false, "zero": false}, "axis": null},
  "y": {"field": "v", "type": "quantitative", "scale": {"domain": [-1.071, 1.475], "nice": false, "zero": false}, "axis": null},
  "text": {"field": "t"},
  "color": {"field": "k", "type": "nominal", "scale": {"domain": ["light", "blue", "red"], "range": ["#d1d4dc", "#2962ff", "#f23645"]}, "legend": null}}},
{"data": {"values": [{"i": 79.5, "v": -0.885}, {"i": 84.9, "v": -0.885}, {"i": 93.25, "v": -0.885}, {"i": 99.3, "v": -0.885}, {"i": 107.6, "v": -0.885}, {"i": 169.3, "v": -0.885}]},
 "mark": {"type": "point", "shape": "circle", "filled": true, "color": "#2a2e39", "size": 190, "opacity": 0.92},
 "encoding": {
  "x": {"field": "i", "type": "quantitative", "scale": {"domain": [-0.5, 174.5], "nice": false, "zero": false}, "axis": null},
  "y": {"field": "v", "type": "quantitative", "scale": {"domain": [-1.071, 1.475], "nice": false, "zero": false}, "axis": null}}},
{"data": {"values": [{"i": 79.5, "v": -0.885, "t": "−"}, {"i": 84.9, "v": -0.885, "t": "+"}, {"i": 93.25, "v": -0.885, "t": "‹"}, {"i": 99.3, "v": -0.885, "t": "›"}, {"i": 107.6, "v": -0.885, "t": "↻"}, {"i": 169.3, "v": -0.885, "t": "»"}]},
 "mark": {"type": "text", "align": "center", "baseline": "middle", "fontSize": 10, "color": "#b2b5be"},
 "encoding": {
  "x": {"field": "i", "type": "quantitative", "scale": {"domain": [-0.5, 174.5], "nice": false, "zero": false}, "axis": null},
  "y": {"field": "v", "type": "quantitative", "scale": {"domain": [-1.071, 1.475], "nice": false, "zero": false}, "axis": null},
  "text": {"field": "t"}}},
{"data": {"values": [{"i": 182, "v": -1.251, "t": "⚙"}]},
 "mark": {"type": "text", "align": "center", "baseline": "middle", "fontSize": 10, "color": "#787b86", "font": "DejaVu Sans"},
 "encoding": {
  "x": {"field": "i", "type": "quantitative", "scale": {"domain": [-0.5, 174.5], "nice": false, "zero": false}, "axis": null},
  "y": {"field": "v", "type": "quantitative", "scale": {"domain": [-1.071, 1.475], "nice": false, "zero": false}, "axis": null},
  "text": {"field": "t"}}}
]
}
]
}
